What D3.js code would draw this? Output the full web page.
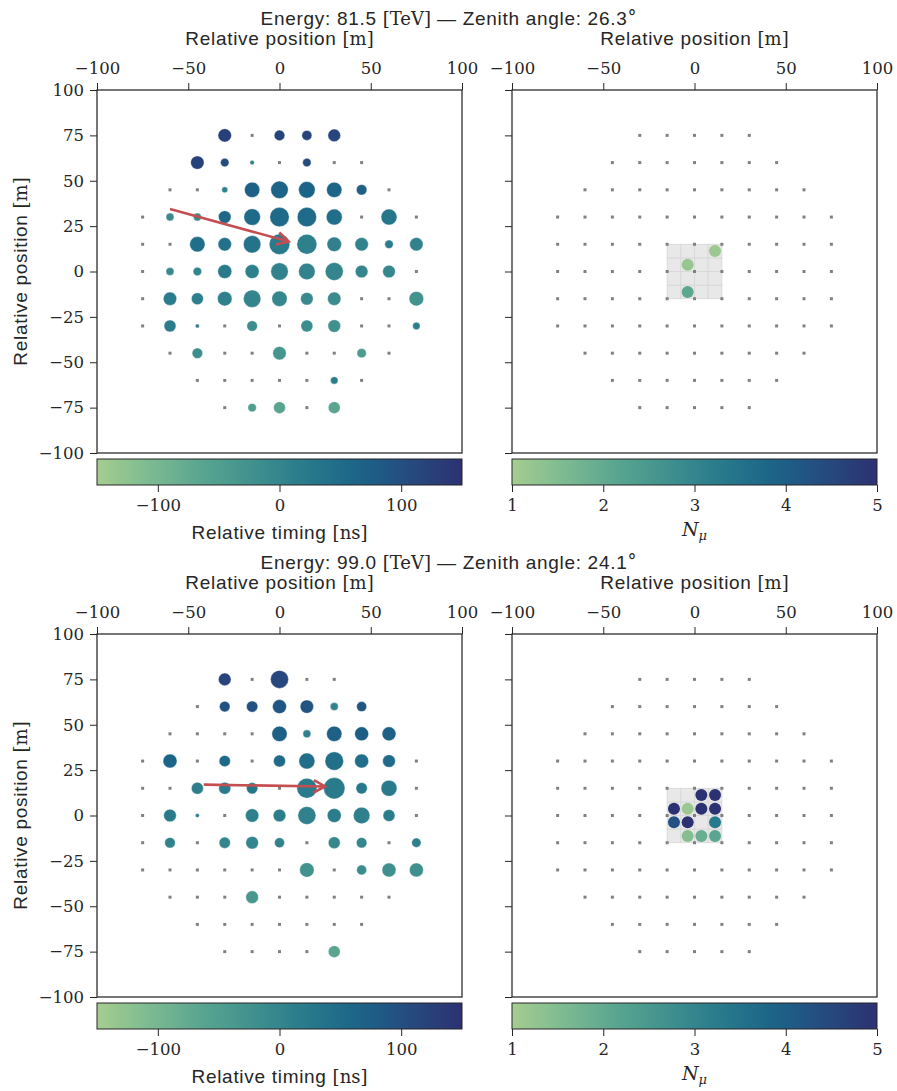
<!DOCTYPE html>
<style>
body { margin: 0; background: #fff; }
.axis .domain { display: none; }
.axis line { stroke: #262626; stroke-width: 1; }
.axis text { font-family: 'DejaVu Serif', serif; font-size: 16.5px; fill: #262626; }
.sans { font-family: 'Liberation Sans', sans-serif; font-size: 19px; letter-spacing: 0.7px; fill: #262626; }
.serif { font-family: 'DejaVu Serif', serif; font-size: 18px; letter-spacing: 0; }
</style>
<svg width="897" height="1091"></svg>
<script src="https://d3js.org/d3.v7.min.js"></script>
<script>
// station grid: [row y, station x positions] in metres
var gridRows = [
  [75, [-30, -15, 0, 15, 30]],
  [60, [-45, -30, -15, 0, 15, 30, 45]],
  [45, [-60, -45, -30, -15, 0, 15, 30, 45, 60]],
  [30, [-75, -60, -45, -30, -15, 0, 15, 30, 45, 60, 75]],
  [15, [-75, -60, -45, -30, -15, 0, 15, 30, 45, 60, 75]],
  [0, [-75, -60, -45, -30, -15, 0, 15, 30, 45, 60, 75]],
  [-15, [-75, -60, -45, -30, -15, 0, 15, 30, 45, 60, 75]],
  [-30, [-75, -60, -45, -30, -15, 0, 15, 30, 45, 60, 75]],
  [-45, [-60, -45, -30, -15, 0, 15, 30, 45, 60]],
  [-60, [-45, -30, -15, 0, 15, 30, 45]],
  [-75, [-30, -15, 0, 15, 30]]
];

// muon detector cell edges (4x4 cells in the centre)
var muonCellEdges = [-15, -7.5, 0, 7.5];

var energies = [81.5, 99.0];
var zeniths = [26.3, 24.1];

// hit stations: [x, y, signal, relative timing ns]
var hits1 = [
  [-30, 75, 45, 125], [0, 75, 28, 120], [15, 75, 25, 118], [30, 75, 40, 115],
  [-45, 60, 45, 122], [-30, 60, 18, 105], [-15, 60, 5, 10], [15, 60, 18, 105],
  [-30, 45, 9, 10], [-15, 45, 59, 72], [0, 45, 76, 68], [15, 45, 69, 66], [30, 45, 59, 62], [45, 45, 28, 72],
  [-60, 30, 16, -10], [-45, 30, 16, -5], [-30, 30, 40, 58], [-15, 30, 69, 52], [0, 30, 94, 52], [15, 30, 94, 50], [30, 30, 64, 45], [60, 30, 64, 32],
  [-45, 15, 59, 45], [-30, 15, 45, 40], [-15, 15, 76, 35], [0, 15, 106, 20], [15, 15, 100, 10], [30, 15, 53, 8], [45, 15, 45, 5], [60, 15, 18, 15], [75, 15, 45, 5],
  [-60, 0, 16, -5], [-45, 0, 18, 0], [-30, 0, 49, 20], [-15, 0, 49, 10], [0, 0, 76, 5], [15, 0, 69, 3], [30, 0, 81, 0], [45, 0, 40, 0], [60, 0, 40, -3],
  [-60, -15, 45, 18], [-45, -15, 36, 12], [-30, -15, 53, 8], [-15, -15, 76, 2], [0, -15, 59, -2], [15, -15, 40, -10], [30, -15, 45, -12], [75, -15, 53, -25],
  [-60, -30, 36, 15], [-45, -30, 4, 12], [-15, -30, 28, -15], [15, -30, 36, -15], [30, -30, 40, -22], [75, -30, 14, 15],
  [-45, -45, 28, -17], [0, -45, 45, -32], [45, -45, 22, -45],
  [30, -60, 14, 15],
  [-15, -75, 18, -50], [0, -75, 36, -65], [30, -75, 36, -65]
];
var hits2 = [
  [-30, 75, 40, 118], [0, 75, 81, 112],
  [-30, 60, 28, 95], [-15, 60, 32, 95], [0, 60, 49, 90], [15, 60, 45, 92], [30, 60, 16, 5], [45, 60, 25, 92],
  [0, 45, 59, 72], [15, 45, 16, 8], [30, 45, 59, 72], [45, 45, 49, 75], [60, 45, 49, 70],
  [-60, 30, 49, 62], [-30, 30, 32, 55], [0, 30, 36, 50], [15, 30, 64, 45], [30, 30, 86, 42], [45, 30, 49, 45], [60, 30, 40, 50],
  [-45, 15, 36, 12], [-30, 15, 36, 22], [-15, 15, 32, 32], [15, 15, 100, 18], [30, 15, 114, 20], [45, 15, 32, 25], [60, 15, 64, 22],
  [-60, 0, 40, 20], [-45, 0, 4, 20], [-15, 0, 45, 10], [0, 0, 40, 15], [15, 0, 81, 8], [30, 0, 49, 15], [45, 0, 69, 10], [60, 0, 36, 15],
  [-60, -15, 28, 5], [-30, -15, 32, 0], [-15, -15, 40, 0], [0, -15, 25, 5], [30, -15, 36, -5], [45, -15, 28, -3], [75, -15, 22, 10],
  [15, -30, 53, -25], [45, -30, 25, -15], [60, -30, 49, -20], [75, -30, 49, -22],
  [-15, -45, 40, -35],
  [30, -75, 36, -65]
];

// shower direction arrows: [start, end] in metres
var arrow1 = [[-60, 34.5], [5, 16.5]];
var arrow2 = [[-41.5, 17], [25, 16]];

// muon counts: [x, y, N_mu]
var muons1 = [[11.25, 11.25, 1.15], [-3.75, 3.75, 1.2], [-3.75, -11.25, 2.1]];
var muons2 = [
  [3.75, 11.25, 5], [11.25, 11.25, 5],
  [-11.25, 3.75, 5], [-3.75, 3.75, 1.15], [3.75, 3.75, 5], [11.25, 3.75, 5],
  [-11.25, -3.75, 4.3], [-3.75, -3.75, 5], [11.25, -3.75, 3.3],
  [-3.75, -11.25, 1.45], [3.75, -11.25, 1.9], [11.25, -11.25, 2.15]
];

var posTicks = [-100, -50, 0, 50, 100];
var posTicksY = [-100, -75, -50, -25, 0, 25, 50, 75, 100];
var timeTicks = [-100, 0, 100];
var muTicks = [1, 2, 3, 4, 5];

var svg = d3.select("svg");

// seaborn "crest"
var crest = d3.piecewise(d3.interpolateRgb, ["#a5cd90", "#7dba91", "#59a590", "#40908e", "#287a8c", "#1c6488", "#254b7f", "#2c3172"]);

var defs = svg.append("defs");
var grad = defs.append("linearGradient").attr("id", "crestGrad");
d3.range(0, 1.0001, 0.05).forEach(function(t) {
  grad.append("stop").attr("offset", t).attr("stop-color", crest(t));
});

var W = 365, H = 363, cbH = 26;
var x = d3.scaleLinear().domain([-100, 100]).range([0, W]);
var y = d3.scaleLinear().domain([-100, 100]).range([H, 0]);
var size = d3.scaleSqrt().domain([0, 100]).range([0, 10]);
var tScale = d3.scaleLinear().domain([-150, 150]).range([0, 1]);
var mScale = d3.scaleLinear().domain([1, 5]).range([0, 1]);

var stations = [];
gridRows.forEach(function(r) { r[1].forEach(function(sx) { stations.push([sx, r[0]]); }); });

function posLabel(g, tx, ty, rot) {
  var t = g.append("text").attr("class", "sans")
    .attr("transform", "translate(" + tx + "," + ty + ")" + (rot ? " rotate(-90)" : ""))
    .attr("text-anchor", "middle");
  t.append("tspan").text("Relative position ");
  t.append("tspan").attr("class", "serif").text("[m]");
}

function panel(left, top, showY) {
  var g = svg.append("g").attr("transform", "translate(" + left + "," + top + ")");
  g.append("g").attr("class", "axis")
    .call(d3.axisTop(x).tickValues(posTicks).tickSize(7).tickPadding(9));
  g.append("g").attr("class", "axis")
    .call(d3.axisLeft(y).tickValues(posTicksY).tickSize(7).tickPadding(6)
      .tickFormat(showY ? null : function() { return ""; }));
  posLabel(g, W / 2, -45, false);
  g.append("rect").attr("width", W).attr("height", H)
    .attr("fill", "none").attr("stroke", "#262626").attr("stroke-width", 1.25);
  return g;
}

function stationDots(g) {
  g.append("g").selectAll("rect").data(stations).enter().append("rect")
    .attr("x", function(d) { return x(d[0]) - 1.5; })
    .attr("y", function(d) { return y(d[1]) - 1.5; })
    .attr("width", 3).attr("height", 3)
    .attr("fill", "#808080");
}

function colorbar(left, top, scaleDomain, ticks, fmt) {
  var g = svg.append("g").attr("transform", "translate(" + left + "," + top + ")");
  var s = d3.scaleLinear().domain(scaleDomain).range([0, W]);
  g.append("rect").attr("width", W).attr("height", cbH)
    .attr("fill", "url(#crestGrad)").attr("stroke", "#262626").attr("stroke-width", 1);
  g.append("g").attr("class", "axis").attr("transform", "translate(0," + cbH + ")")
    .call(d3.axisBottom(s).tickValues(ticks).tickSize(7).tickPadding(7).tickFormat(fmt));
  return g;
}

function drawEvent(k, top, hits, arrow, muons) {
  // title
  var t = svg.append("text").attr("class", "sans").attr("x", 448.5).attr("y", top - 65)
    .attr("text-anchor", "middle");
  t.append("tspan").text("Energy: " + energies[k].toFixed(1) + " ");
  t.append("tspan").attr("class", "serif").text("[TeV]");
  t.append("tspan").text(" — Zenith angle: " + zeniths[k].toFixed(1));
  t.append("tspan").attr("class", "serif").attr("font-size", "14px").attr("dy", -2).text("°");

  // left: signal + timing
  var gl = panel(97, top, true);
  stationDots(gl);
  gl.append("g").selectAll("circle").data(hits).enter().append("circle")
    .attr("cx", function(d) { return x(d[0]); })
    .attr("cy", function(d) { return y(d[1]); })
    .attr("r", function(d) { return size(d[2]); })
    .attr("fill", function(d) { return crest(tScale(d[3])); })
    .attr("stroke", "#fff").attr("stroke-width", 0.4);

  var x0 = x(arrow[0][0]), y0 = y(arrow[0][1]), x1 = x(arrow[1][0]), y1 = y(arrow[1][1]);
  var ang = Math.atan2(y1 - y0, x1 - x0), hl = 13, ha = 0.5;
  gl.append("path")
    .attr("d", "M" + x0 + "," + y0 + "L" + x1 + "," + y1 +
      "M" + (x1 - hl * Math.cos(ang - ha)) + "," + (y1 - hl * Math.sin(ang - ha)) +
      "L" + x1 + "," + y1 +
      "L" + (x1 - hl * Math.cos(ang + ha)) + "," + (y1 - hl * Math.sin(ang + ha)))
    .attr("fill", "none").attr("stroke", "#c44e52").attr("stroke-width", 2.6)
    .attr("stroke-linejoin", "miter");

  // right: muons
  var gr = panel(512, top, false);
  var cells = [];
  muonCellEdges.forEach(function(cx) { muonCellEdges.forEach(function(cy) { cells.push([cx, cy]); }); });
  gr.append("g").selectAll("rect").data(cells).enter().append("rect")
    .attr("x", function(d) { return x(d[0]); })
    .attr("y", function(d) { return y(d[1] + 7.5); })
    .attr("width", x(7.5) - x(0)).attr("height", y(0) - y(7.5))
    .attr("fill", "#e8e8e8").attr("stroke", "#d6d6d6").attr("stroke-width", 0.8);
  stationDots(gr);
  gr.append("g").selectAll("circle").data(muons).enter().append("circle")
    .attr("cx", function(d) { return x(d[0]); })
    .attr("cy", function(d) { return y(d[1]); })
    .attr("r", 6)
    .attr("fill", function(d) { return crest(mScale(d[2])); });

  // colorbars
  var c1 = colorbar(97, top + H + 6, [-150, 150], timeTicks, null);
  var l1 = c1.append("text").attr("class", "sans").attr("x", W / 2).attr("y", cbH + 54)
    .attr("text-anchor", "middle");
  l1.append("tspan").text("Relative timing ");
  l1.append("tspan").attr("class", "serif").text("[ns]");

  var c2 = colorbar(512, top + H + 6, [1, 5], muTicks, d3.format("d"));
  var l2 = c2.append("text").attr("x", W / 2).attr("y", cbH + 51)
    .attr("text-anchor", "middle").attr("font-family", "DejaVu Serif")
    .attr("font-size", "19px").attr("font-style", "italic").attr("fill", "#262626");
  l2.append("tspan").text("N");
  l2.append("tspan").attr("font-size", "13px").attr("dy", 4).text("μ");

  // y label
  posLabel(svg, 27, top + H / 2, true);
}

drawEvent(0, 90, hits1, arrow1, muons1);
drawEvent(1, 634, hits2, arrow2, muons2);
</script>
